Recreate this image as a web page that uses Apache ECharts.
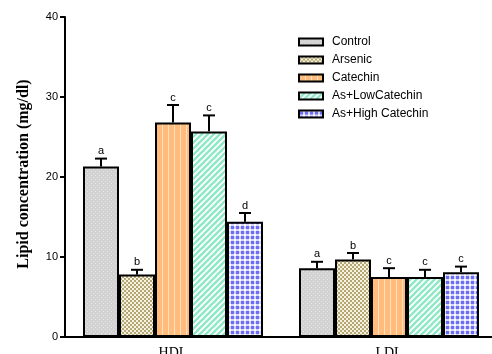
<!DOCTYPE html>
<html>
<head>
<meta charset="utf-8">
<script src="https://cdn.jsdelivr.net/npm/echarts@6/dist/echarts.min.js"></script>
<style>html,body{margin:0;padding:0;background:#fff;}#c{width:492px;height:354px;}</style>
</head>
<body>
<div id="c"></div>
<script>
const categories = ['HDL', 'LDL'];
const seriesNames = ['Control', 'Arsenic', 'Catechin', 'As+LowCatechin', 'As+High Catechin'];
const control = [21.3, 8.6];
const arsenic = [7.8, 9.7];
const catechin = [26.8, 7.5];
const lowCatechin = [25.7, 7.5];
const highCatechin = [14.4, 8.1];
const controlErr = [1.0, 0.8];
const arsenicErr = [0.6, 0.8];
const catechinErr = [2.2, 1.1];
const lowCatechinErr = [2.0, 0.9];
const highCatechinErr = [1.1, 0.7];
const controlLetters = ['a', 'a'];
const arsenicLetters = ['b', 'b'];
const catechinLetters = ['c', 'c'];
const lowCatechinLetters = ['c', 'c'];
const highCatechinLetters = ['d', 'c'];
const yTicks = [0, 10, 20, 30, 40];

const values = [control, arsenic, catechin, lowCatechin, highCatechin];
const errs = [controlErr, arsenicErr, catechinErr, lowCatechinErr, highCatechinErr];
const letters = [controlLetters, arsenicLetters, catechinLetters, lowCatechinLetters, highCatechinLetters];

function makePattern(w, h, draw) {
  const c = document.createElement('canvas');
  c.width = w; c.height = h;
  const g = c.getContext('2d');
  draw(g, w, h);
  return { image: c, repeat: 'repeat' };
}
const patterns = [
  makePattern(4, 4, (g) => { g.fillStyle = '#d2d2d2'; g.fillRect(0,0,4,4); g.fillStyle = '#e6e6e6'; g.fillRect(1,1,1,1); g.fillRect(3,3,1,1); }),
  makePattern(4, 4, (g) => { g.fillStyle = '#b5a774'; g.fillRect(0,0,4,4); g.fillStyle = '#f6f2e0'; g.fillRect(0,0,2,2); g.fillRect(2,2,2,2); }),
  makePattern(6, 1, (g) => { g.fillStyle = '#ffbc7c'; g.fillRect(0,0,6,1); g.fillStyle = '#ffe2c4'; g.fillRect(0,0,1,1); }),
  makePattern(6, 6, (g) => { g.fillStyle = '#ffffff'; g.fillRect(0,0,6,6); g.strokeStyle = '#8ee8c6'; g.lineWidth = 2.4;
    for (let k = -1; k <= 1; k++) { g.beginPath(); g.moveTo(k*6 - 1, 7); g.lineTo(k*6 + 7, -1); g.stroke(); } }),
  makePattern(5, 5, (g) => { g.fillStyle = '#ffffff'; g.fillRect(0,0,5,5); g.fillStyle = '#d6d6ff'; g.fillRect(0,1,5,3); g.fillRect(1,0,3,5); g.fillStyle = '#6e6ef2'; g.fillRect(1,1,3,3); })
];

const gapFrac = 0.1667;
const errData = [];
values.forEach((arr, s) => arr.forEach((v, i) => errData.push([i, v, errs[s][i], s, letters[s][i]])));

const chart = echarts.init(document.getElementById('c'), null, { renderer: 'canvas' });
const barSeries = seriesNames.map((n, s) => ({
  name: n,
  type: 'bar',
  data: values[s],
  barGap: '0%',
  barCategoryGap: (gapFrac * 100) + '%',
  itemStyle: { color: patterns[s], borderColor: '#000', borderWidth: 2 },
  emphasis: { disabled: true },
  z: 2
}));

chart.setOption({
  animation: false,
  backgroundColor: '#fff',
  grid: { left: 65, right: -5, top: 17, bottom: 17, outerBoundsMode: 'none', containLabel: false },
  legend: {
    orient: 'vertical',
    left: 293,
    top: 31,
    itemWidth: 24,
    itemHeight: 7,
    itemGap: 6,
    data: seriesNames,
    icon: 'rect',
    itemStyle: { borderColor: '#000', borderWidth: 2 },
    textStyle: { fontFamily: 'Liberation Sans', fontSize: 12, color: '#000', padding: [0,0,0,4] }
  },
  xAxis: {
    type: 'category',
    data: categories,
    axisLine: { lineStyle: { color: '#000', width: 2 } },
    axisTick: { alignWithLabel: true, length: 5, lineStyle: { color: '#000', width: 2 } },
    axisLabel: { fontFamily: 'Liberation Serif', fontSize: 14, color: '#000', margin: 9 }
  },
  yAxis: {
    type: 'value',
    min: yTicks[0],
    max: yTicks[yTicks.length - 1],
    interval: 10,
    name: 'Lipid concentration (mg/dl)',
    nameLocation: 'middle',
    nameGap: 33,
    nameTextStyle: { fontFamily: 'Liberation Serif', fontWeight: 'bold', fontSize: 16, color: '#000', padding: [0, 0, 0, 6] },
    splitLine: { show: false },
    axisLine: { show: true, lineStyle: { color: '#000', width: 2 } },
    axisTick: { show: true, length: 5, lineStyle: { color: '#000', width: 2 } },
    axisLabel: { fontFamily: 'Liberation Sans', fontSize: 11, color: '#000', margin: 7 }
  },
  series: barSeries.concat([{
    type: 'custom',
    data: errData,
    z: 3,
    silent: true,
    renderItem: function (params, api) {
      const cat = api.value(0), v = api.value(1), e = api.value(2), s = api.value(3);
      const band = api.size([1, 0])[0];
      const bw = band * (1 - gapFrac) / 5;
      const cx = api.coord([cat, 0])[0] - 2.5 * bw + (s + 0.5) * bw;
      const yTop = api.coord([cat, v])[1];
      const yErr = api.coord([cat, v + e])[1];
      const letter = errData[params.dataIndex][4];
      return {
        type: 'group',
        children: [
          { type: 'line', shape: { x1: cx, y1: yTop, x2: cx, y2: yErr }, style: { stroke: '#000', lineWidth: 2 } },
          { type: 'line', shape: { x1: cx - 6, y1: yErr, x2: cx + 6, y2: yErr }, style: { stroke: '#000', lineWidth: 2 } },
          { type: 'text', style: { text: letter, x: cx, y: yErr - 2, align: 'center', verticalAlign: 'bottom', fontFamily: 'Liberation Sans', fontSize: 11, fill: '#000' } }
        ]
      };
    }
  }])
});
</script>
</body>
</html>
